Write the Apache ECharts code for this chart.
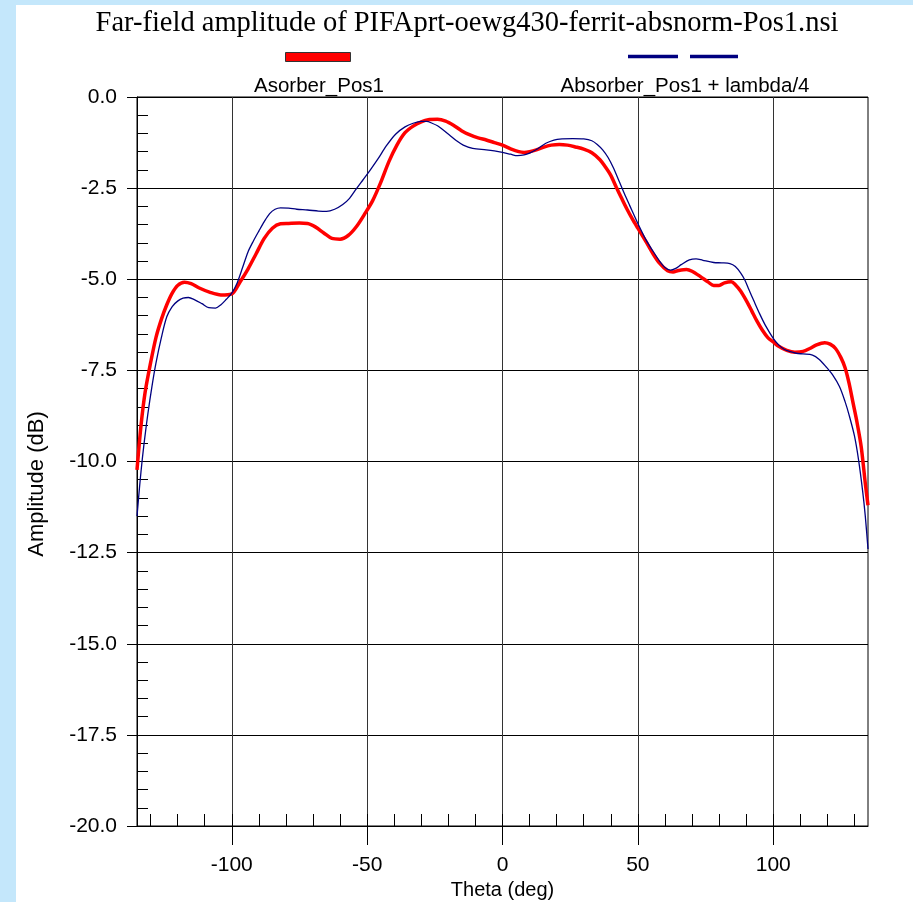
<!DOCTYPE html>
<html>
<head>
<meta charset="utf-8">
<script src="https://cdn.jsdelivr.net/npm/echarts@6/dist/echarts.min.js"></script>
<style>
html,body{margin:0;padding:0;background:#c4e7fb;}
#chart{width:913px;height:902px;}
</style>
</head>
<body>
<div id="chart"></div>
<script>
// ---- data ----
const titleText = 'Far-field amplitude of PIFAprt-oewg430-ferrit-absnorm-Pos1.nsi';
const seriesNames = ['Asorber_Pos1', 'Absorber_Pos1 + lambda/4'];
const xAxisTitle = 'Theta (deg)';
const yAxisTitle = 'Amplitude (dB)';
const xMajorTicks = [-100, -50, 0, 50, 100];
const xMinorTicks = [-130,-120,-110,-100,-90,-80,-70,-60,-50,-40,-30,-20,-10,0,10,20,30,40,50,60,70,80,90,100,110,120,130];

const thetaRed = [-135,-133.5,-132,-130,-128,-126,-124,-122,-120,-117.5,-115,-112,-108,-104,-100,-97,-94,-91,-88,-85,-82,-79,-75,-72,-69,-66,-63,-60,-57,-54,-51,-48,-45,-42,-39,-36,-33,-30,-27,-24,-21,-18,-15,-12,-9,-6,-3,0,3,6,8,10,12.5,15,18,21,24,27,30,33,36,38,40,42,44,46,48,50,53,55.5,58,61,63,65,68,70,73,76,78,80,82,84.5,86,88,90,92,94,96,98,100,102,105,108,111,113.5,116,119,121,123,125,126.5,128,129.5,131,132.5,134,135];
const ampRed = [-10.23,-9.0,-8.1,-7.3,-6.6,-6.1,-5.7,-5.38,-5.17,-5.08,-5.12,-5.24,-5.36,-5.43,-5.4,-5.08,-4.72,-4.3,-3.88,-3.6,-3.48,-3.47,-3.46,-3.47,-3.57,-3.73,-3.88,-3.9,-3.8,-3.56,-3.22,-2.85,-2.35,-1.78,-1.32,-0.98,-0.8,-0.68,-0.62,-0.61,-0.66,-0.78,-0.93,-1.04,-1.12,-1.18,-1.25,-1.32,-1.42,-1.5,-1.52,-1.5,-1.45,-1.38,-1.32,-1.3,-1.32,-1.37,-1.43,-1.53,-1.72,-1.92,-2.15,-2.47,-2.78,-3.08,-3.35,-3.6,-3.97,-4.29,-4.56,-4.77,-4.8,-4.76,-4.73,-4.78,-4.92,-5.08,-5.17,-5.17,-5.1,-5.07,-5.15,-5.33,-5.58,-5.86,-6.15,-6.4,-6.6,-6.72,-6.84,-6.95,-7.0,-6.98,-6.9,-6.8,-6.74,-6.78,-6.9,-7.15,-7.42,-7.85,-8.4,-8.95,-9.6,-10.6,-11.2];

const thetaBlue = [-135,-134,-133,-132,-131,-129.5,-128,-126,-124,-122,-120,-118,-116,-114,-111,-108.5,-106,-104,-102,-100,-98,-96,-94,-92,-90,-88,-86,-84,-82,-79,-76,-72,-68,-65,-62,-59,-56.5,-54,-51.5,-49,-46,-43,-39.5,-36,-33,-30,-28,-26,-24,-22,-19.5,-17,-14.5,-11,-6,-3,0,3,5.5,8,10,13,16,19,22,26,30,33,35,37,39,41,43,45,47,50,53,55.5,58,60,62,64,66,69,71.5,74,78,81,84,86,88,89.5,91,93,95,97,100,102,104,106,108.5,111,114.5,117,119.5,122,124.5,126.5,128,130,131.5,133,134,135];
const ampBlue = [-11.5,-10.65,-9.9,-9.27,-8.7,-7.95,-7.3,-6.6,-6.03,-5.75,-5.6,-5.52,-5.5,-5.55,-5.67,-5.78,-5.79,-5.7,-5.55,-5.38,-5.1,-4.68,-4.25,-3.95,-3.68,-3.42,-3.2,-3.08,-3.04,-3.05,-3.08,-3.1,-3.13,-3.14,-3.08,-2.95,-2.78,-2.52,-2.27,-2.02,-1.7,-1.35,-1.02,-0.82,-0.72,-0.67,-0.67,-0.72,-0.79,-0.9,-1.05,-1.2,-1.32,-1.41,-1.45,-1.48,-1.52,-1.57,-1.61,-1.59,-1.54,-1.42,-1.27,-1.18,-1.15,-1.14,-1.15,-1.2,-1.3,-1.45,-1.66,-1.95,-2.3,-2.65,-2.98,-3.47,-3.92,-4.22,-4.5,-4.68,-4.75,-4.7,-4.6,-4.47,-4.44,-4.48,-4.54,-4.55,-4.57,-4.65,-4.83,-5.02,-5.28,-5.62,-5.95,-6.25,-6.62,-6.8,-6.92,-6.98,-7.03,-7.05,-7.08,-7.2,-7.4,-7.63,-7.95,-8.35,-8.72,-9.3,-9.95,-10.8,-11.5,-12.4];

const redData = thetaRed.map((t, i) => [t, ampRed[i]]);
const blueData = thetaBlue.map((t, i) => [t, ampBlue[i]]);

const FONT = 'Liberation Sans, Arial, sans-serif';
const chart = echarts.init(document.getElementById('chart'), null, {renderer: 'canvas'});

const option = {
  animation: false,
  backgroundColor: '#c4e7fb',
  graphic: [
    {type: 'rect', shape: {x: 16, y: 5, width: 913 - 16, height: 902 - 5}, style: {fill: '#ffffff'}, z: -10, silent: true},
    {type: 'text', x: 467, y: 24, style: {text: titleText, font: '28.5px "Liberation Serif", "Times New Roman", serif', fill: '#000', textAlign: 'center', textVerticalAlign: 'middle'}},
    {type: 'rect', shape: {x: 285.5, y: 52.5, width: 65, height: 9}, style: {fill: '#ff0000', stroke: '#333', lineWidth: 1}},
    {type: 'text', x: 319, y: 86, style: {text: seriesNames[0], font: '20.5px ' + FONT, fill: '#000', textAlign: 'center', textVerticalAlign: 'middle'}},
    {type: 'line', shape: {x1: 628, y1: 56.5, x2: 678, y2: 56.5}, style: {stroke: '#000080', lineWidth: 3.5}},
    {type: 'line', shape: {x1: 690, y1: 56.5, x2: 738, y2: 56.5}, style: {stroke: '#000080', lineWidth: 3.5}},
    {type: 'text', x: 685, y: 86, style: {text: seriesNames[1], font: '20.5px ' + FONT, fill: '#000', textAlign: 'center', textVerticalAlign: 'middle'}},
    {type: 'text', x: 37, y: 484, rotation: Math.PI / 2, style: {text: yAxisTitle, font: '22px ' + FONT, fill: '#000', textAlign: 'center', textVerticalAlign: 'middle'}}
  ],
  grid: {left: 137, right: 45, top: 97, bottom: 76, outerBoundsMode: 'none', containLabel: false, show: true, borderColor: '#000', borderWidth: 1, backgroundColor: 'transparent'},
  xAxis: [
    {
      type: 'value', min: -135, max: 135, position: 'bottom',
      name: xAxisTitle, nameLocation: 'middle', nameGap: 54,
      nameTextStyle: {color: '#000', fontSize: 20, fontFamily: FONT},
      axisLine: {show: true, onZero: false, lineStyle: {color: '#000', width: 1}},
      axisTick: {show: true, inside: false, length: 19, customValues: xMajorTicks, lineStyle: {color: '#000', width: 1}},
      axisLabel: {show: true, customValues: xMajorTicks, margin: 29, color: '#000', fontSize: 21, fontFamily: FONT},
      splitLine: {show: true, lineStyle: {color: '#333', width: 1}}
    },
    {
      type: 'value', min: -135, max: 135, position: 'bottom',
      axisLine: {show: false, onZero: false},
      axisTick: {show: true, inside: true, length: 12, customValues: xMinorTicks, lineStyle: {color: '#000', width: 1}},
      axisLabel: {show: false},
      splitLine: {show: false}
    }
  ],
  yAxis: [
    {
      type: 'value', min: -20, max: 0, interval: 2.5, position: 'left',
      axisLine: {show: true, onZero: false, lineStyle: {color: '#000', width: 1}},
      axisTick: {show: true, inside: false, length: 10, lineStyle: {color: '#000', width: 1}},
      axisLabel: {show: true, margin: 20, color: '#000', fontSize: 21, fontFamily: FONT, formatter: v => v.toFixed(1)},
      splitLine: {show: true, lineStyle: {color: '#000', width: 1}}
    },
    {
      type: 'value', min: -20, max: 0, interval: 0.5, position: 'left',
      axisLine: {show: false, onZero: false},
      axisTick: {show: true, inside: true, length: 11, lineStyle: {color: '#000', width: 1}},
      axisLabel: {show: false},
      splitLine: {show: false}
    }
  ],
  series: [
    {name: seriesNames[0], type: 'line', xAxisIndex: 0, yAxisIndex: 0, data: redData, showSymbol: false, smooth: 0.3, lineStyle: {color: '#ff0000', width: 3.5}, z: 3},
    {name: seriesNames[1], type: 'line', xAxisIndex: 0, yAxisIndex: 0, data: blueData, showSymbol: false, smooth: 0.3, lineStyle: {color: '#000080', width: 1.3}, z: 4}
  ]
};
chart.setOption(option);
</script>
</body>
</html>
